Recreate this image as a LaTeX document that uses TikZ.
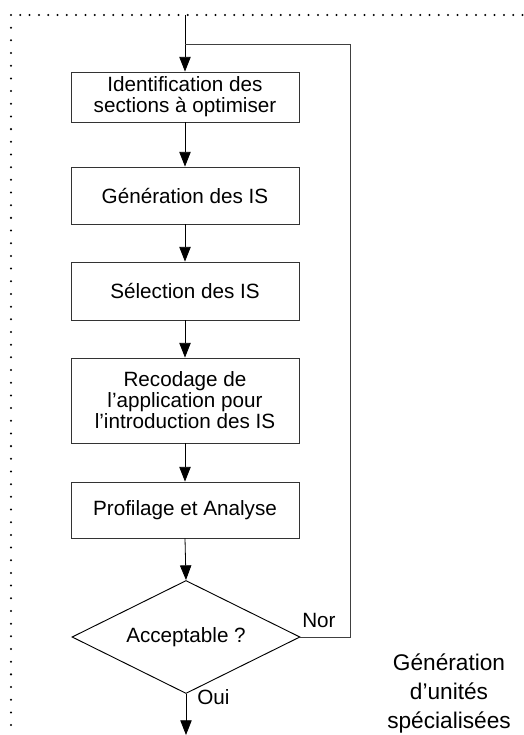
\documentclass[tikz,border=0pt]{standalone}
\usepackage{fontspec}
\setmainfont{Liberation Sans}
\usetikzlibrary{arrows.meta,shapes.geometric}
\begin{document}
\begin{tikzpicture}[x=0.75pt,y=-0.75pt,
  stepbox/.style={draw=black!80,line width=0.6pt,minimum width=171pt,inner sep=0pt,
    align=center,font=\fontsize{15.5pt}{15.75pt}\selectfont},
  decision/.style={draw=black,line width=0.7pt,shape=diamond,aspect=2,inner sep=0pt,
    minimum width=171pt,minimum height=84.75pt,font=\fontsize{15.5pt}{16pt}\selectfont},
  flow/.style={line width=0.6pt,-{Triangle[length=11pt,width=8.5pt]}},
  loop/.style={draw=black!75,line width=0.6pt},
  lbl/.style={font=\fontsize{15.5pt}{16pt}\selectfont,inner sep=0pt},
  dot/.style={fill=black}]
\useasboundingbox (0,0) rectangle (524,735);

% dotted frame (top and left edges)
\foreach \i in {0,...,55} \fill[dot] (11+9.3*\i,15) circle[radius=0.85pt];
\foreach \i in {1,...,56} \fill[dot] (11,15+12.68*\i) circle[radius=0.85pt];

% process steps
\node[stepbox,minimum height=37.5pt]  (s1) at (185,97)    {Identification des\\sections à optimiser};
\node[stepbox,minimum height=42.75pt] (s2) at (185,195.5) {Génération des IS};
\node[stepbox,minimum height=43.5pt]  (s3) at (185,291)   {Sélection des IS};
\node[stepbox,minimum height=63.75pt] (s4) at (185,400.5) {Recodage de\\l’application pour\\l’introduction des IS};
\node[stepbox,minimum height=42pt]    (s5) at (185,510)   {Profilage et Analyse};
\node[decision] (dec) at (186,637) {Acceptable ?};

% entry, loop-back and exit points
\coordinate (entry) at (185,15);
\coordinate (join)  at (185,44);
\coordinate (rtop)  at (350,44);
\coordinate (rbot)  at (350,637);
\coordinate (exit)  at (186,735);

\draw[flow] (entry) -- (s1.north);
\draw[flow] (s1) -- (s2);
\draw[flow] (s2) -- (s3);
\draw[flow] (s3) -- (s4);
\draw[flow] (s4) -- (s5);
\draw[flow] (s5.south) -- (dec.north);
\draw[flow] (dec.south) -- (exit);
\draw[loop] (dec.east) -- (rbot) -- (rtop) -- (join);

% branch labels
\node[lbl,anchor=base west] (no)  at (302,627) {Nor};
\node[lbl,anchor=base west] (yes) at (197,704) {Oui};

% caption
\node[anchor=base,align=center,font=\fontsize{17pt}{21.75pt}\selectfont,inner sep=0pt]
  (cap) at (449,728) {Génération\\d’unités\\spécialisées};
\end{tikzpicture}
\end{document}
